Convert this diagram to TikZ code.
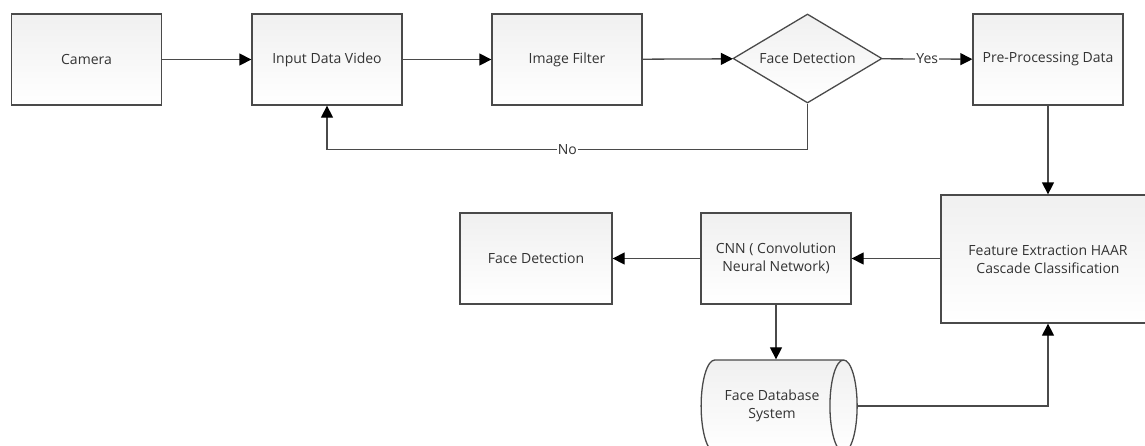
\documentclass[tikz,border=0pt]{standalone}
\usepackage{fontspec}
\setmainfont{Open Sans}
\usepackage{xcolor}
\usepackage{tikz}
\usetikzlibrary{arrows.meta,shapes.geometric}
\definecolor{edge}{HTML}{4A4A4A}
\definecolor{ink}{HTML}{333333}
\definecolor{shade}{HTML}{F0F0F0}

\begin{document}
\begin{tikzpicture}[x=1pt,y=-1pt,line join=miter,
    box/.style={draw=edge,line width=1.3pt,top color=shade,bottom color=white,
      text=ink,align=center,font=\fontsize{14}{18}\selectfont},
    block/.style={box,minimum width=150pt,minimum height=91pt},
    flow/.style={draw=edge,line width=1.3pt,-{Triangle[length=12pt,width=12pt,color=black]}},
    tag/.style={fill=white,inner sep=1pt,text=ink,font=\fontsize{14}{18}\selectfont}]
  \useasboundingbox (0,0) rectangle (1145,445);
  \clip (0,0) rectangle (1145,445);
  \node[block] (camera) at (86.5,59.5) {Camera};
  \node[block] (input) at (327,59.5) {Input Data Video};
  \node[block] (filter) at (567,59.5) {Image Filter};
  \node[box,diamond,aspect=1.67,minimum width=149pt,minimum height=89pt,inner sep=0pt]
    (detect) at (807.5,58.5) {Face Detection};
  \node[block] (prep) at (1048,59.5) {Pre-Processing Data};
  \node[block,minimum width=214pt,minimum height=128pt] (feature) at (1048,259)
    {Feature Extraction HAAR\\Cascade Classification};
  \node[block] (cnn) at (776,258.5) {CNN ( Convolution\\Neural Network)};
  \node[block,minimum width=152pt] (result) at (536,258.5) {Face Detection};
  \node[box,cylinder,shape aspect=0.85,minimum width=92pt,minimum height=156pt,inner sep=0pt]
    (db) at (772,406) {Face Database\\System};
  \draw[flow] (camera) -- (input);
  \draw[flow] (input) -- (filter);
  \draw[flow] (filter) -- (detect);
  \draw[flow] (detect) -- node[tag] {Yes} (prep);
  \draw[flow] (detect.south) -- ++(0,46) coordinate (nobend) -| node[tag,pos=0.25] {No} (input.south);
  \draw[flow] (prep.south) -- (feature.north);
  \draw[flow] (feature.west |- cnn) -- (cnn);
  \draw[flow] (cnn) -- (result);
  \draw[flow] (cnn.south) -- (cnn.south |- db.north);
  \draw[flow] (db.east) -| (feature.south);
\end{tikzpicture}
\end{document}
